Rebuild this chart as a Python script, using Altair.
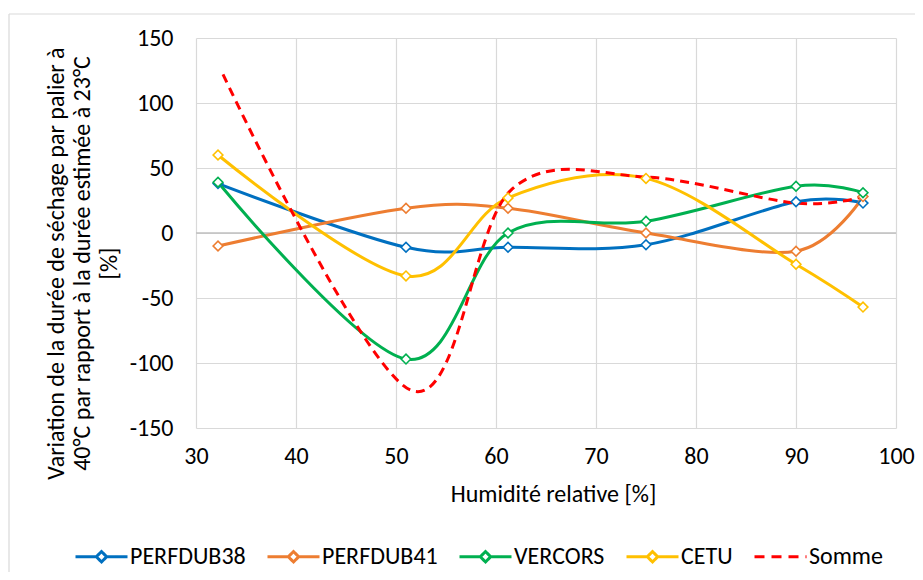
import altair as alt
import pandas as pd

# ---- data ----
hr = [32.2, 51.0, 61.2, 75.0, 90.0, 96.7]
perfdub38 = [38, -11, -11, -9, 24, 23]
perfdub41 = [-10, 19, 19, 0, -14, 28]
vercors = [39, -97, 0, 9, 36, 31]
cetu = [60, -33, 27, 42, -24, -57]
somme_hr = [32.7, 51.5, 61.5, 75.0, 90.0, 96.7]
somme = [122, -121, 33, 43, 23, 28]

series_names = ["PERFDUB38", "PERFDUB41", "VERCORS", "CETU", "Somme"]
series_colors = ["#0070C0", "#ED7D31", "#00B050", "#FFC000", "#FF0000"]
x_ticks = [30, 40, 50, 60, 70, 80, 90, 100]
y_ticks = [-150, -100, -50, 0, 50, 100, 150]
y_title = ["Variation de la durée de séchage par palier à",
           "40°C par rapport à la durée estimée à 23°C",
           "[%]"]
x_title = "Humidité relative [%]"

FONT = "Carlito, Calibri, Lato, sans-serif"
FS = 24

rows = []
for name, vals, col in zip(series_names[:4], [perfdub38, perfdub41, vercors, cetu], series_colors[:4]):
    for x, y in zip(hr, vals):
        rows.append({"series": name, "hr": x, "val": y, "col": col})
df = pd.DataFrame(rows)
df_somme = pd.DataFrame({"series": "Somme", "hr": somme_hr, "val": somme})
df_zero = pd.DataFrame({"val": [0]})

x_enc = alt.X("hr:Q",
              scale=alt.Scale(domain=[30, 100], nice=False, zero=False),
              axis=alt.Axis(values=x_ticks, title=x_title, grid=True, gridColor="#D9D9D9",
                            gridWidth=1.2, domain=False, ticks=False, tickSize=0,
                            labelFont=FONT, labelFontSize=FS, labelColor="#000000",
                            labelPadding=16, labelFlush=False,
                            titleFont=FONT, titleFontSize=FS, titleFontWeight="normal",
                            titleColor="#000000", titleX=357, titleY=66,
                            titleBaseline="middle"))
y_enc = alt.Y("val:Q",
              scale=alt.Scale(domain=[-150, 150], nice=False, zero=False),
              axis=alt.Axis(values=y_ticks, title=y_title, grid=True, gridColor="#D9D9D9",
                            gridWidth=1.2, domain=False, ticks=False, tickSize=0,
                            labelFont=FONT, labelFontSize=FS, labelColor="#000000",
                            labelPadding=23, labelExpr="'' + datum.value",
                            titleFont=FONT, titleFontSize=FS, titleFontWeight="normal",
                            titleColor="#000000", titleLineHeight=26.5,
                            titleX=-140, titleY=225, titleAngle=270,
                            titleBaseline="middle", titleAlign="center"))

zero_line = alt.Chart(df_zero).mark_rule(color="#BFBFBF", strokeWidth=1.5).encode(y=y_enc)

lines = alt.Chart(df).mark_line(interpolate="cardinal", strokeWidth=3).encode(
    x=x_enc, y=y_enc,
    color=alt.Color("col:N", scale=None),
    detail="series:N",
)

somme_line = alt.Chart(df_somme).mark_line(
    interpolate="cardinal", strokeWidth=3, color="#FF0000", strokeDash=[9, 6]
).encode(x=x_enc, y=y_enc)

points = alt.Chart(df).mark_point(
    shape="diamond", filled=True, fill="white", size=95, strokeWidth=1.6, opacity=1
).encode(
    x=x_enc, y=y_enc,
    stroke=alt.Stroke("col:N", scale=None),
    detail="series:N",
)

# legend symbols: line with a diamond for the marker series, dashed line for Somme
line_diamond = "M-2,0L-0.4,0M0.4,0L2,0M-0.4,0L0,-0.4L0.4,0L0,0.4Z"
plain_line = "M-2,0L2,0"
shape_paths = [line_diamond] * 4 + [plain_line]
dash_list = [[1, 0]] * 4 + [[10, 7]]

leg = dict(title=None, orient="none", legendX=-109, legendY=504, direction="horizontal",
           symbolSize=676, symbolStrokeWidth=3, labelFont=FONT, labelFontSize=FS,
           labelColor="#000000", labelOffset=14, columnPadding=15, columns=5)

legend_layer = alt.Chart(df).transform_filter("false").mark_point(filled=False, opacity=1).encode(
    x=x_enc, y=y_enc,
    color=alt.Color("series:N", scale=alt.Scale(domain=series_names, range=series_colors),
                    legend=alt.Legend(**leg)),
    shape=alt.Shape("series:N", scale=alt.Scale(domain=series_names, range=shape_paths),
                    legend=alt.Legend(**leg)),
    strokeDash=alt.StrokeDash("series:N", scale=alt.Scale(domain=series_names, range=dash_list),
                              legend=alt.Legend(**leg)),
)

# outer chart frame (left and top edges)
frame_left = alt.Chart(df_zero).mark_rule(color="#D9D9D9", strokeWidth=1.2).encode(
    x=alt.value(-187), y=alt.value(-24), y2=alt.value(545))
frame_top = alt.Chart(df_zero).mark_rule(color="#D9D9D9", strokeWidth=1.2).encode(
    x=alt.value(-187), x2=alt.value(730), y=alt.value(-24))

chart = alt.layer(
    frame_left, frame_top, zero_line, lines, somme_line, points, legend_layer
).properties(
    width=700, height=390,
    autosize=alt.AutoSizeParams(type="none"),
    padding={"left": 188, "top": 30, "right": 19, "bottom": 144},
    background="white",
).configure_view(stroke=None)

chart.save("out.html", embed_options={"renderer": "svg", "actions": False})
